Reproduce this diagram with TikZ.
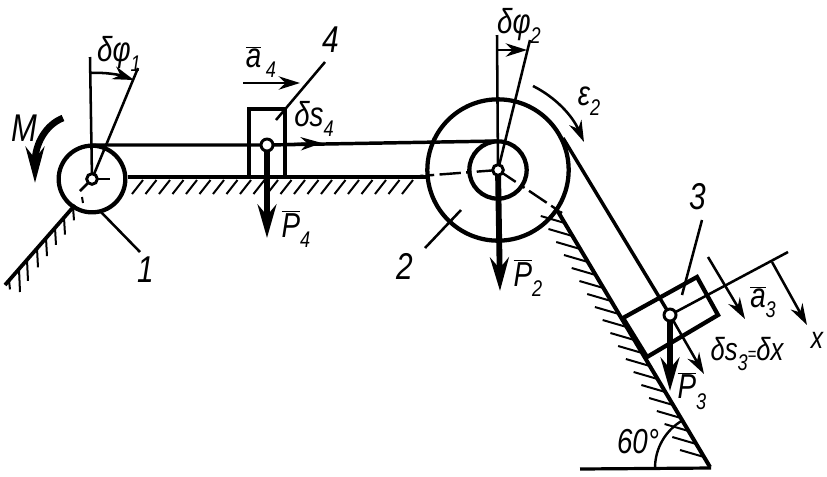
\documentclass[tikz,border=0pt]{standalone}
\usepackage{fontspec}
\setmainfont{Liberation Sans}
\usetikzlibrary{arrows.meta,calc}
\newcommand\subs[1]{\raisebox{-0.3em}{\fontsize{17}{17}\selectfont #1}}
\newcommand\olt[1]{$\overline{\hbox{\itshape #1}}$}
\tikzset{
  lab/.style={inner sep=0pt,font=\fontsize{26}{26}\selectfont\itshape,xscale=.8,transform shape},
  thinl/.style={line width=1.9pt},
  rope/.style={line width=2.6pt},
  wheel/.style={circle,draw,line width=3.2pt,fill=none,inner sep=0pt},
  pin/.style={circle,draw,line width=2.2pt,fill=white,minimum size=9pt,inner sep=0pt},
  arr/.style={line width=1.9pt,-{Stealth[length=16pt,width=10pt]}},
  force/.style={line width=4.4pt,-{Stealth[length=25pt,width=14pt]}},
  hatch/.style={line width=1.5pt},
  body/.style={line width=3.2pt,line join=miter},
  axisl/.style={line width=1.8pt,dash pattern=on 16pt off 4pt on 4pt off 4pt}
}
\begin{document}
\begin{tikzpicture}[x=0.75pt,y=-0.75pt]
\useasboundingbox (0,0) rectangle (827,476);
% centres
\coordinate (c1) at (92,179);
\coordinate (c2) at (498,170);
\coordinate (c4) at (267,145);
\coordinate (c3) at (670,315);
% hatching
\foreach \x in {143,156.5,...,425} \draw[hatch] (\x,180) -- ++(-11,14);
\foreach \x/\l in {82/6,73/13,64/17,55/17,46/18,37/19,27/21,19/23,9/9}
  \draw[hatch] ($(5,285)!{(\x-5)/70}!(75,205)$) -- ++(1,\l);
\foreach \y in {223,236,...,462}
  \draw[hatch] ($(557,210)!{(\y-210)/257}!(710,467)$) -- ++(-24,-7);
% ground
\draw[line width=2.8pt] (128,177) -- (430,177);
\draw[line width=2.8pt] (5,285) -- (75,205);
\draw[line width=3pt] (557,210) -- (710,467);
\draw[line width=2.4pt] (580,469) -- (711,468);
\draw[line width=1.8pt] (655,468) arc[start angle=180,end angle=240,radius=55];
% axes lines
\draw[thinl] (90,57) -- (c1);
\draw[thinl] (138,68) -- (c1);
\draw[thinl] (497,35) -- (c2);
\draw[thinl] (530,40) -- (c2);
\draw[axisl] (c2) -- (420,176);
\draw[axisl] (c2) -- (562,213);
\draw[thinl] (c1) -- (110,179);
\draw[thinl] (c1) -- (80,191);
\draw[thinl] (c3) -- (788,252);
% wheels
\node[wheel,minimum size=50pt] (w1) at (c1) {};
\node[wheel,minimum size=106pt] (w2o) at (c2) {};
\node[wheel,minimum size=43pt] (w2i) at (c2) {};
% ropes
\draw[rope] (92,145) -- (c4) -- (498,141);
\draw[rope] (563,138) -- (c3);
% bodies
\draw[body] (249,177) -- (249,109) -- (285,109) -- (285,177);
\draw[body] (623,318) -- (697,277) -- (718,315) -- (647,357) -- cycle;
% leaders
\coordinate (l1) at (140,252); \draw[thinl] (100,211) -- (l1);
\coordinate (l2) at (425,248); \draw[thinl] (l2) -- (461,210);
\coordinate (l3) at (702,220); \draw[thinl] (l3) -- (682,295);
\coordinate (l4) at (325,62); \draw[thinl] (l4) -- (276,120);
% forces
\draw[force] (c4) -- (267,238);
\draw[force] (c2) -- (500,291);
\draw[force] (c3) -- (670,391);
\draw[line width=5pt,-{Stealth[length=27pt,width=14pt]}] (63,118) .. controls (45,125) and (35,145) .. (35,183);
% small arrows
\draw[arr] (90,73) .. controls (105,72) and (120,75) .. (134,80);
\draw[arr] (498,50) -- (527,50);
\draw[arr] (243,83) -- (300,83);
\draw[arr] (c4) -- (322,143);
\draw[arr] (533,86) .. controls (555,97) and (572,115) .. (584,142);
\draw[arr] (708,257) -- (745,319);
\draw[arr] (772,262) -- (807,325);
\draw[arr] (c3) -- (704,374);
% pins
\node[pin,minimum size=8pt] (p1) at (c1) {};
\node[pin,minimum size=8pt] (p2) at (c2) {};
\node[pin] (p4) at (c4) {};
\node[pin] (p3) at (c3) {};
% labels
\node[lab] (t1) at (146,270) {\fontsize{28}{28}\selectfont 1};
\node[lab] (t2) at (405,266) {\fontsize{28}{28}\selectfont 2};
\node[lab] (t3) at (698,197) {\fontsize{28}{28}\selectfont 3};
\node[lab] (t4) at (331,40) {\fontsize{28}{28}\selectfont 4};
\node[lab] (tm) at (24,128) {\fontsize{29}{29}\selectfont M};
\node[lab] (td1) at (119,54) {δφ\subs{1}};
\node[lab] (td2) at (519,26) {δφ\subs{2}};
\node[lab] (ta4) at (261,62) {\olt{a}\,\subs{4}};
\node[lab] (ds4) at (314,119) {δs\subs{4}};
\node[lab] (tp4) at (296,229) {\olt{P}\subs{4}};
\node[lab] (tp2) at (528,278) {\olt{P}\subs{2}};
\node[lab] (te2) at (589,101) {ε\subs{2}};
\node[lab] (ta3) at (763,302) {\olt{a}\subs{3}};
\node[lab] (tp3) at (692,391) {\olt{P}\subs{3}};
\node[lab,font=\fontsize{24}{24}\selectfont\itshape] (ds3) at (747,354) {δs\subs{3}{\fontsize{14}{14}\selectfont =}δx};
\node[lab,font=\fontsize{23}{23}\selectfont\itshape] (tx) at (817,340) {x};
\node[lab] (t60) at (638,442) {60°};
\end{tikzpicture}
\end{document}
